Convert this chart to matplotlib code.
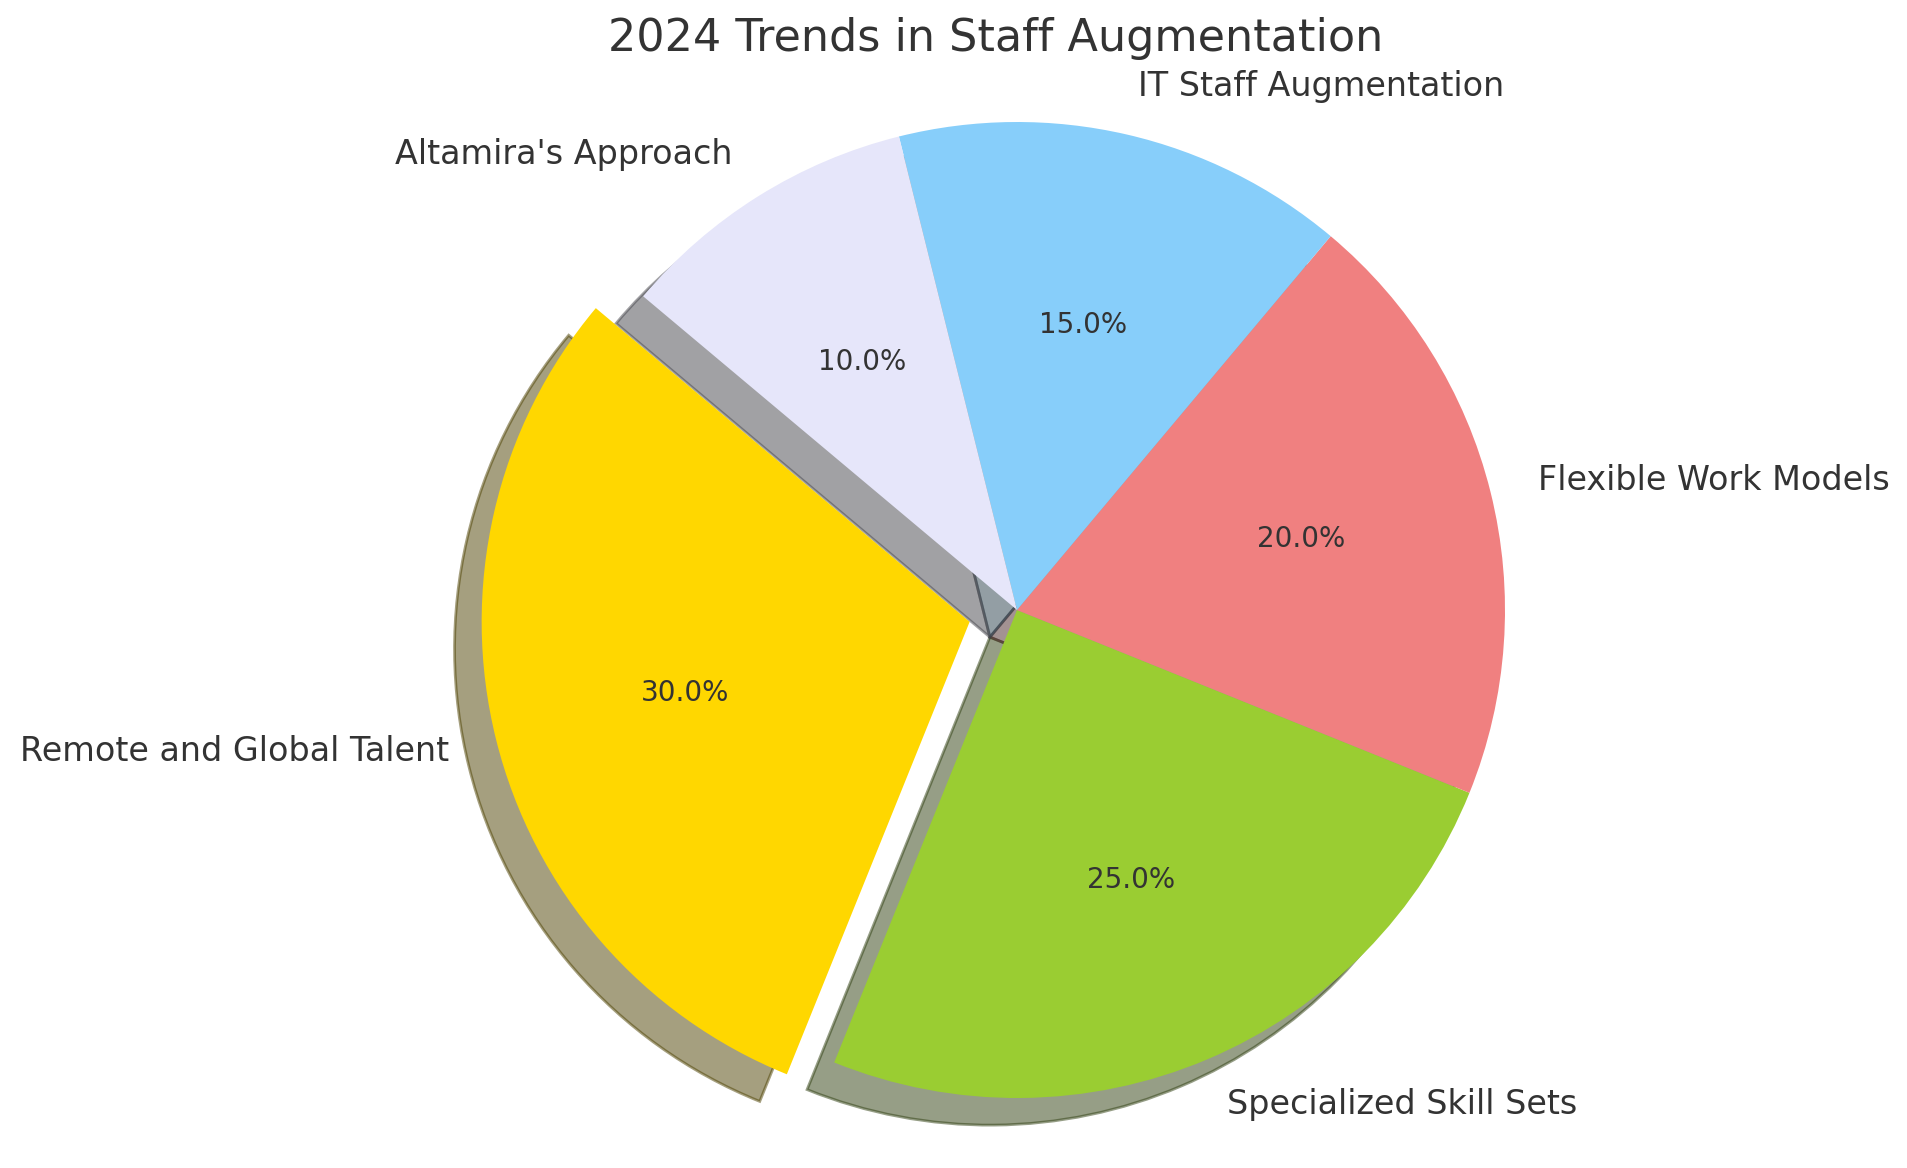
import matplotlib
matplotlib.use("Agg")
import matplotlib.pyplot as plt

labels = ["Remote and Global Talent", "Specialized Skill Sets", "Flexible Work Models",
          "IT Staff Augmentation", "Altamira's Approach"]
sizes = [30, 25, 20, 15, 10]
colors = ["gold", "yellowgreen", "lightcoral", "lightskyblue", "lavender"]
explode = [0.1, 0, 0, 0, 0]
title = "2024 Trends in Staff Augmentation"

W, H, DPI = 1908, 1168, 200
fig = plt.figure(figsize=(W / DPI, H / DPI), dpi=DPI)
ax = fig.add_axes([0, 0, 1, 1])

text_color = "#333333"
wedges, texts, autotexts = ax.pie(
    sizes, labels=labels, colors=colors, explode=explode, autopct="%1.1f%%",
    shadow=True, startangle=140,
    textprops={"color": text_color, "fontsize": 12},
)
for t in autotexts:
    t.set_fontsize(10)

# pixel-equivalent scaling: radius ~488 px, center at (1017, 610) from top-left
r = 488.0
cx, cy = 1017.0, 610.0
ax.set_aspect("auto")
ax.set_xlim(-cx / r, (W - cx) / r)
ax.set_ylim(-(H - cy) / r, cy / r)
ax.axis("off")

fig.text(996 / W, 1 - 39 / H, title, ha="center", va="center",
         fontsize=16, color=text_color)

fig.savefig("out.png", dpi=DPI)
